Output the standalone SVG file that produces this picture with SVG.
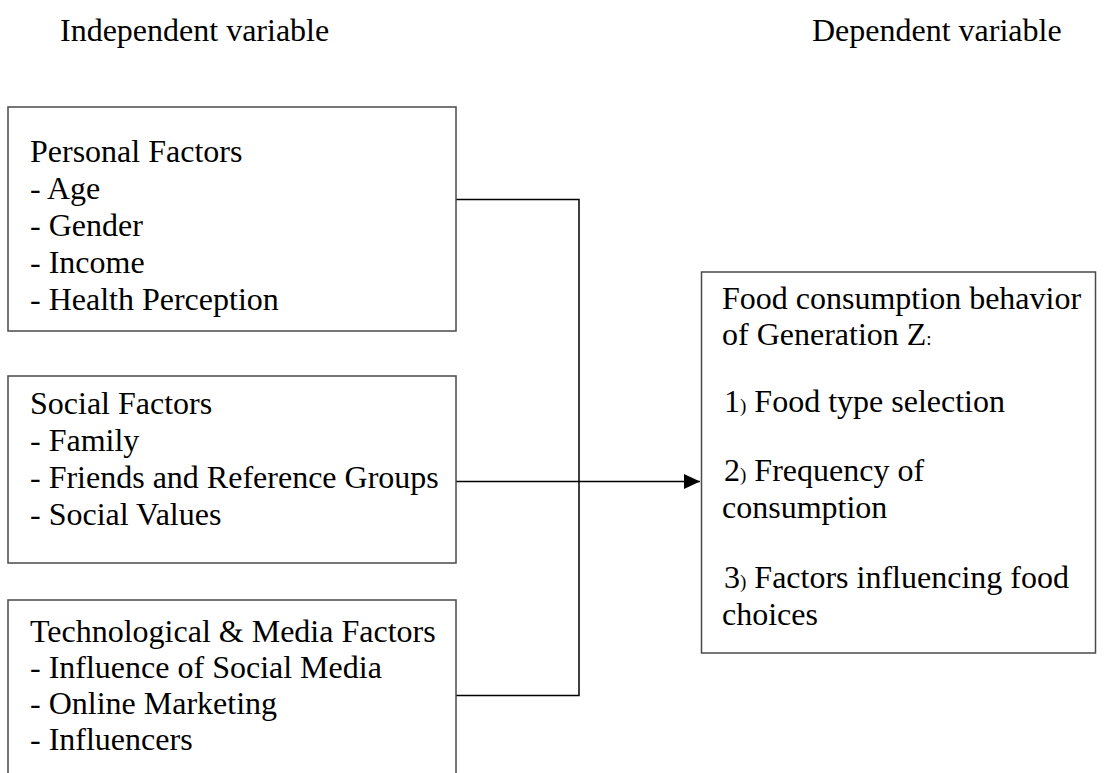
<svg xmlns="http://www.w3.org/2000/svg" width="1104" height="773" viewBox="0 0 1104 773">
<style>
  text { font-family: "Liberation Serif", "Times New Roman", serif; font-size: 32px; fill: #000; }
  .box { fill: #fff; stroke: #4a4a4a; stroke-width: 1.5; }
  .conn { fill: none; stroke: #000; stroke-width: 1.5; }
  .sm { font-size: 19px; }
</style>
<defs>
  <marker id="arrow" markerWidth="16" markerHeight="15" refX="16" refY="7.5" orient="auto" markerUnits="userSpaceOnUse">
    <path d="M0,0 L16,7.5 L0,15 Z" fill="#000"/>
  </marker>
</defs>
<rect width="1104" height="773" fill="#fff"/>
<g id="headers">
  <text x="60" y="41">Independent variable</text>
  <text x="812" y="41">Dependent variable</text>
</g>
<g id="connectors">
  <path class="conn" d="M456,199.5 H579 V695.5 H456"/>
  <path class="conn" d="M456,481.5 H700" marker-end="url(#arrow)"/>
</g>
<g id="personal">
  <rect class="box" x="8" y="107" width="448" height="224"/>
  <text x="30" y="162">Personal Factors</text>
  <text x="30" y="199">- Age</text>
  <text x="30" y="236">- Gender</text>
  <text x="30" y="273">- Income</text>
  <text x="30" y="310">- Health Perception</text>
</g>
<g id="social">
  <rect class="box" x="8" y="376" width="448" height="187"/>
  <text x="30" y="414">Social Factors</text>
  <text x="30" y="451">- Family</text>
  <text x="30" y="488">- Friends and Reference Groups</text>
  <text x="30" y="525">- Social Values</text>
</g>
<g id="tech">
  <rect class="box" x="8" y="600" width="448" height="200"/>
  <text x="30" y="642">Technological &amp; Media Factors</text>
  <text x="30" y="678">- Influence of Social Media</text>
  <text x="30" y="714">- Online Marketing</text>
  <text x="30" y="750">- Influencers</text>
</g>
<g id="dependent">
  <rect class="box" x="701.5" y="272" width="394" height="381"/>
  <text x="722" y="309">Food consumption behavior</text>
  <text x="722" y="345">of Generation Z<tspan class="sm">:</tspan></text>
  <text x="724" y="412">1<tspan class="sm">)</tspan> Food type selection</text>
  <text x="724" y="481">2<tspan class="sm">)</tspan> Frequency of</text>
  <text x="722" y="518">consumption</text>
  <text x="724" y="588">3<tspan class="sm">)</tspan> Factors influencing food</text>
  <text x="722" y="625">choices</text>
</g>
</svg>
